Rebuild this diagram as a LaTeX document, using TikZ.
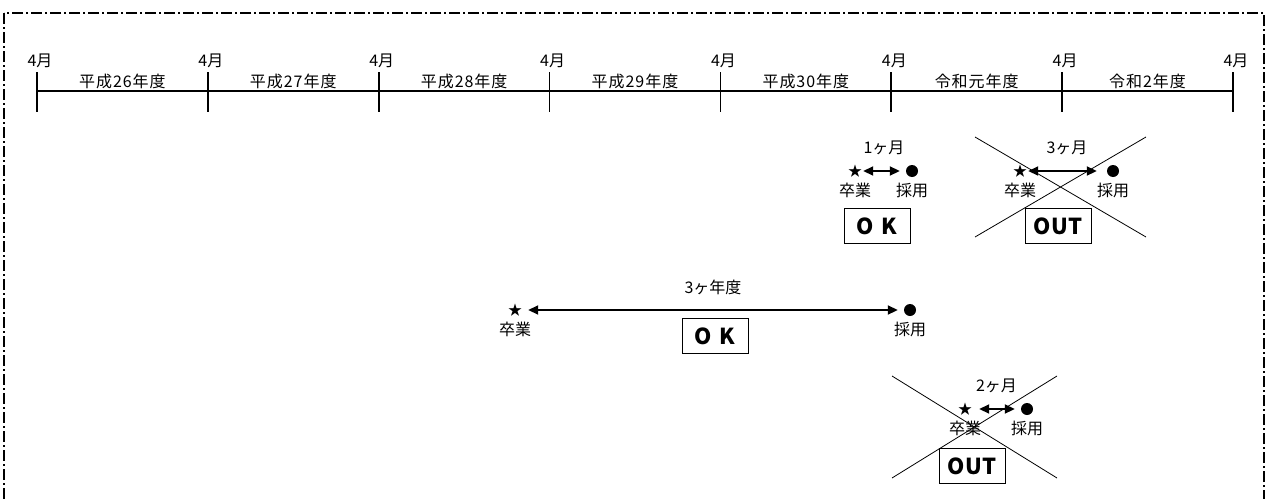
\documentclass[tikz,border=0pt]{standalone}
\usepackage{fontspec}
\setmainfont{Noto Sans CJK JP}
\usetikzlibrary{arrows.meta}
\begin{document}
\begin{tikzpicture}
[x=1pt,y=-1pt,
  framedecorate/.style={line width=1.6pt,dash pattern=on 11pt off 3pt on 2pt off 3pt},
  linedecorate/.style={-,line width=1.3pt},
  tickdecorate/.style={-,line width=1.8pt},
  spandecorate/.style={{Triangle[length=10pt,width=9pt]}-{Triangle[length=10pt,width=9pt]},line width=1.8pt},
  crossdecorate/.style={-,line width=0.8pt},
  labeldecorate/.style={inner sep=0pt,font=\fontsize{16}{16}\selectfont},
  yeardecorate/.style={inner sep=0pt,font=\fontsize{16}{16}\selectfont\addfontfeature{LetterSpace=6}},
  stardecorate/.style={inner sep=0pt,font=\fontsize{14}{14}\selectfont},
  dotdecorate/.style={circle,fill,inner sep=0pt,minimum size=12pt},
  verdictdecorate/.style={draw,fill=white,line width=0.8pt,minimum width=66pt,
    minimum height=35pt,inner sep=0pt,font=\fontsize{22}{22}\selectfont\bfseries}]
\useasboundingbox (0,0) rectangle (1268,498);
%% frame
\draw[framedecorate] (4,13) rectangle (1264,520);
%% time line
\foreach \i in {0,...,7} {
  \coordinate (top\i) at ({37+170.86*\i},72);
  \coordinate (bot\i) at ({37+170.86*\i},112);
  \draw[tickdecorate] (top\i) -- (bot\i);
  \node[labeldecorate,anchor=south] (month\i) at ([xshift=3pt,yshift=4pt]top\i) {4月};
}
\coordinate (start) at (37,91);
\coordinate (end) at (1233,91);
\draw[linedecorate] (start) -- (end);
\foreach \i/\nodename/\year in {0/h26/平成26年度, 1/h27/平成27年度, 2/h28/平成28年度,
  3/h29/平成29年度, 4/h30/平成30年度, 5/r1/令和元年度, 6/r2/令和2年度} {
  \node[yeardecorate] (\nodename) at ({122.4+170.86*\i},81.5) {\year};
}
%% crosses
\coordinate (xa) at (975,137); \coordinate (xb) at (1146,237);
\coordinate (xc) at (1146,137); \coordinate (xd) at (975,237);
\coordinate (ya) at (892,376); \coordinate (yb) at (1057,478);
\coordinate (yc) at (1057,376); \coordinate (yd) at (892,478);
\draw[crossdecorate] (xa) -- (xb) (xc) -- (xd);
\draw[crossdecorate] (ya) -- (yb) (yc) -- (yd);
%% graduation and hiring
\foreach \g/\sx/\dx/\y/\span/\ls/\rs in {a/855/912/171/1ヶ月/1/6, b/1020/1113/171/3ヶ月/1/10,
  c/515/910/310/3ヶ年度/6/6, d/965/1027/409/2ヶ月/7/6} {
  \node[stardecorate] (grad\g) at (\sx,\y) {★};
  \node[dotdecorate] (hire\g) at (\dx,\y) {};
  \node[labeldecorate] (gradtext\g) at (\sx,\y+19) {卒業};
  \node[labeldecorate] (hiretext\g) at (\dx,\y+19) {採用};
  \draw[spandecorate,shorten <=\ls pt,shorten >=\rs pt] (grad\g) -- (hire\g)
    node[labeldecorate,midway,yshift=23pt] (span\g) {\span};
}
%% verdicts
\foreach \nodename/\x/\y/\verdict in {oka/877/226/O\hspace{0.35em}K, outb/1058/226/OUT,
  okc/715/336/O\hspace{0.35em}K, outd/972/466/OUT} {
  \node[verdictdecorate] (\nodename) at (\x,\y) {\verdict};
}
\end{tikzpicture}
\end{document}
